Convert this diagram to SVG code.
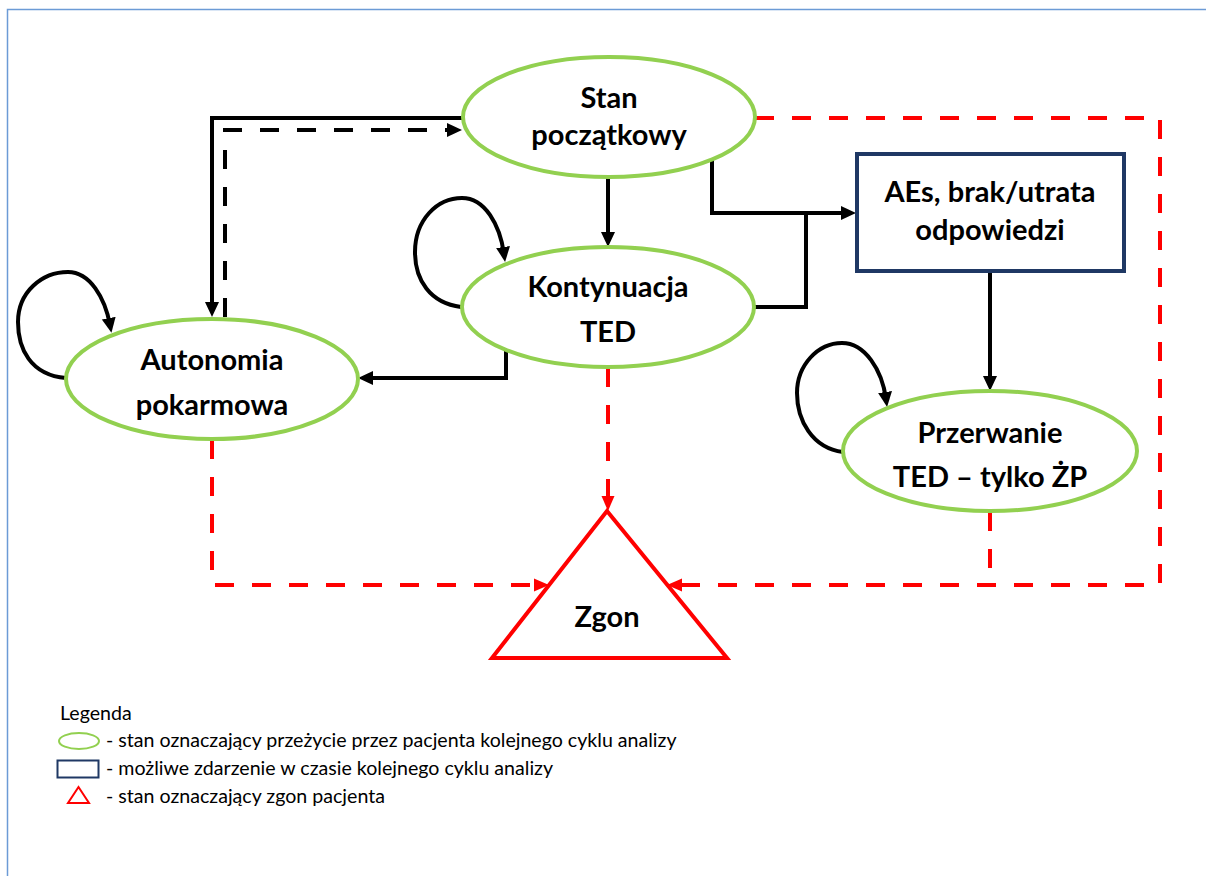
<svg xmlns="http://www.w3.org/2000/svg" width="1206" height="876" viewBox="0 0 1206 876">
<style>
.st{fill:#fff;stroke:#92d050;stroke-width:4}
.ev{fill:#fff;stroke:#1f3864;stroke-width:4}
.lbl{font-family:Lato,"Liberation Sans",sans-serif;font-weight:700;font-size:29px;fill:#000;text-anchor:middle}
.leg{font-family:Lato,"Liberation Sans",sans-serif;font-size:19.6px;fill:#000}
.bk{fill:none;stroke:#000;stroke-width:4}
.bkd{fill:none;stroke:#000;stroke-width:4;stroke-dasharray:19 18}
.rd{fill:none;stroke:#ff0000;stroke-width:4;stroke-dasharray:19 18}
</style>
<defs>
<marker id="ab" markerUnits="userSpaceOnUse" markerWidth="16" markerHeight="16" viewBox="0 0 16 16" refX="7" refY="8" orient="auto"><path d="M0,1 L15,8 L0,15 z" fill="#000"/></marker>
<marker id="ar" markerUnits="userSpaceOnUse" markerWidth="16" markerHeight="16" viewBox="0 0 16 16" refX="7" refY="8" orient="auto"><path d="M0,1.5 L15,8 L0,14.5 z" fill="#ff0000"/></marker>
</defs>
<rect width="1206" height="876" fill="#fff"/>
<rect x="7.5" y="9.5" width="1300" height="900" fill="none" stroke="#6c9bd6" stroke-width="1.5"/>

<g id="connectors">
<path class="bk" d="M463 118 H212 V309" marker-end="url(#ab)"/>
<path class="bkd" d="M225 317 V130 H454" marker-end="url(#ab)"/>
<path class="bk" d="M608 178 V239" marker-end="url(#ab)"/>
<path class="bk" d="M712 158 V213 H848" marker-end="url(#ab)"/>
<path class="bk" d="M755 307 H806 V213"/>
<path class="bk" d="M506 349 V378 H366" marker-end="url(#ab)"/>
<path class="bk" d="M990 272 V383" marker-end="url(#ab)"/>
<path class="bk" d="M66 378 C30 375 18 348 18 322 C18 292 42 272 68 272 C90 272 105 298 110 325" marker-end="url(#ab)"/>
<path class="bk" d="M461 307 C430 303 415 280 415 252 C415 220 437 198 462 198 C485 198 500 225 504 254" marker-end="url(#ab)"/>
<path class="bk" d="M843 452 C812 448 797 420 797 393 C797 365 818 343 842 343 C865 343 882 370 886 399" marker-end="url(#ab)"/>
<path class="rd" d="M755 118 H1160 V585 H675" marker-end="url(#ar)"/>
<path class="rd" d="M990 512 V585"/>
<path class="rd" d="M608 368 V503" marker-end="url(#ar)"/>
<path class="rd" d="M212 440 V585 H541" marker-end="url(#ar)"/>
</g>

<g id="stan">
<ellipse class="st" cx="609" cy="117" rx="146" ry="60"/>
<text class="lbl" x="609" y="108">Stan</text>
<text class="lbl" x="609" y="145">początkowy</text>
</g>
<g id="kontynuacja">
<ellipse class="st" cx="608" cy="307" rx="146" ry="60"/>
<text class="lbl" x="608" y="297">Kontynuacja</text>
<text class="lbl" x="608" y="342">TED</text>
</g>
<g id="autonomia">
<ellipse class="st" cx="212" cy="379" rx="146" ry="60"/>
<text class="lbl" x="212" y="370">Autonomia</text>
<text class="lbl" x="212" y="415">pokarmowa</text>
</g>
<g id="przerwanie">
<ellipse class="st" cx="990" cy="451" rx="147" ry="60"/>
<text class="lbl" x="990" y="443">Przerwanie</text>
<text class="lbl" x="990" y="487">TED – tylko ŻP</text>
</g>
<g id="aes">
<rect class="ev" x="857" y="154" width="267" height="117"/>
<text class="lbl" x="990" y="202">AEs, brak/utrata</text>
<text class="lbl" x="990" y="240">odpowiedzi</text>
</g>
<g id="zgon">
<polygon points="607,511 727,658 492,658" fill="#fff" stroke="#ff0000" stroke-width="4"/>
<text class="lbl" x="607" y="627">Zgon</text>
</g>

<g id="legend">
<text class="leg" x="60" y="720">Legenda</text>
<ellipse cx="79" cy="741" rx="20" ry="8" fill="none" stroke="#92d050" stroke-width="2"/>
<text class="leg" x="106" y="747">- stan oznaczający przeżycie przez pacjenta kolejnego cyklu analizy</text>
<rect x="57.5" y="760.5" width="41" height="17" fill="none" stroke="#1f3864" stroke-width="2"/>
<text class="leg" x="106" y="775">- możliwe zdarzenie w czasie kolejnego cyklu analizy</text>
<polygon points="78.5,787 89,803 68,803" fill="none" stroke="#ff0000" stroke-width="2"/>
<text class="leg" x="106" y="803">- stan oznaczający zgon pacjenta</text>
</g>
</svg>
